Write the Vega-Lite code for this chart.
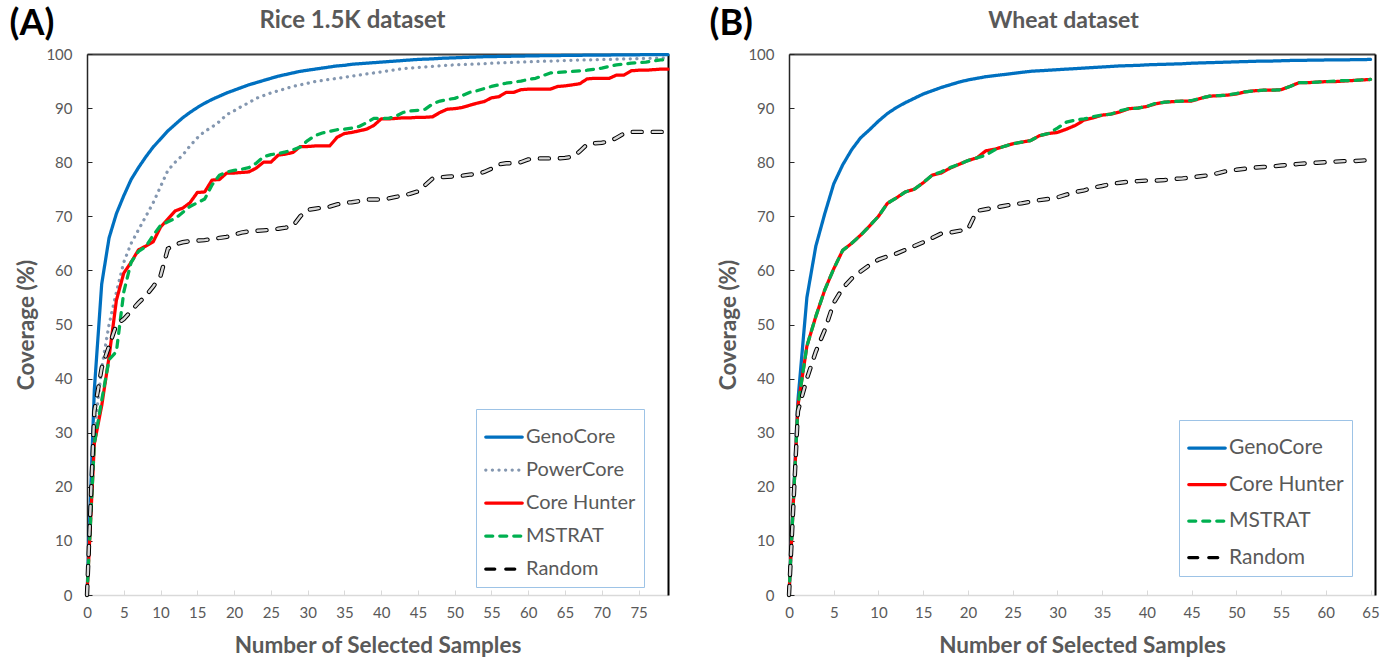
{
  "$schema": "https://vega.github.io/schema/vega-lite/v6.json",
  "background": "white",
  "padding": {"left": 9, "top": 5, "right": 5, "bottom": 5},
  "config": {
    "font": "Lato",
    "view": {"stroke": null},
    "axis": {"grid": false, "labelFont": "Lato", "labelFontSize": 15, "labelColor": "#595959", "titleFont": "Lato", "titleFontSize": 22.5, "titleFontWeight": "bold", "titleColor": "#595959"},
    "legend": {"orient": "none", "fillColor": "white", "strokeColor": "#9DC3E6", "padding": 8, "labelFont": "Lato", "labelColor": "#595959", "symbolType": "stroke", "symbolSize": 1330, "symbolStrokeWidth": 3.25, "labelOffset": 2, "labelLimit": 300}
  },
  "datasets": {
    "rice": [
      {"x":0,"GenoCore":0,"PowerCore":0,"Core Hunter":0,"MSTRAT":0,"Random":0},
      {"x":1,"GenoCore":38,"PowerCore":30,"Core Hunter":28,"MSTRAT":28,"Random":34},
      {"x":2,"GenoCore":57.5,"PowerCore":42,"Core Hunter":35,"MSTRAT":36,"Random":42},
      {"x":3,"GenoCore":66,"PowerCore":50,"Core Hunter":44,"MSTRAT":43.5,"Random":46},
      {"x":4,"GenoCore":70.5,"PowerCore":56,"Core Hunter":54.5,"MSTRAT":45,"Random":50},
      {"x":5,"GenoCore":73.8,"PowerCore":61.5,"Core Hunter":59.5,"MSTRAT":56,"Random":51},
      {"x":6,"GenoCore":76.8,"PowerCore":65,"Core Hunter":61.5,"MSTRAT":61.5,"Random":52.5},
      {"x":7,"GenoCore":79,"PowerCore":67.5,"Core Hunter":63.8,"MSTRAT":63.5,"Random":54},
      {"x":8,"GenoCore":81,"PowerCore":70,"Core Hunter":64.5,"MSTRAT":64.4,"Random":55.3},
      {"x":9,"GenoCore":82.8,"PowerCore":72.5,"Core Hunter":65.3,"MSTRAT":66.5,"Random":57},
      {"x":10,"GenoCore":84.3,"PowerCore":75.5,"Core Hunter":68,"MSTRAT":68.3,"Random":59},
      {"x":11,"GenoCore":85.8,"PowerCore":78.5,"Core Hunter":69.5,"MSTRAT":69,"Random":64},
      {"x":12,"GenoCore":87,"PowerCore":80,"Core Hunter":71,"MSTRAT":69.6,"Random":64.8},
      {"x":13,"GenoCore":88.2,"PowerCore":81.3,"Core Hunter":71.5,"MSTRAT":70.7,"Random":65.2},
      {"x":14,"GenoCore":89.2,"PowerCore":83,"Core Hunter":72.5,"MSTRAT":71.8,"Random":65.4},
      {"x":15,"GenoCore":90.1,"PowerCore":84.5,"Core Hunter":74.4,"MSTRAT":72.5,"Random":65.5},
      {"x":16,"GenoCore":90.9,"PowerCore":85.7,"Core Hunter":74.5,"MSTRAT":73.2,"Random":65.6},
      {"x":17,"GenoCore":91.6,"PowerCore":86.5,"Core Hunter":76.7,"MSTRAT":75.8,"Random":65.8},
      {"x":18,"GenoCore":92.2,"PowerCore":87.5,"Core Hunter":76.8,"MSTRAT":77.6,"Random":66},
      {"x":19,"GenoCore":92.8,"PowerCore":88.8,"Core Hunter":78,"MSTRAT":78.2,"Random":66.2},
      {"x":20,"GenoCore":93.3,"PowerCore":89.5,"Core Hunter":78,"MSTRAT":78.5,"Random":66.6},
      {"x":21,"GenoCore":93.8,"PowerCore":90.3,"Core Hunter":78.1,"MSTRAT":78.7,"Random":67},
      {"x":22,"GenoCore":94.3,"PowerCore":91,"Core Hunter":78.2,"MSTRAT":79,"Random":67.2},
      {"x":23,"GenoCore":94.7,"PowerCore":91.8,"Core Hunter":78.9,"MSTRAT":79.8,"Random":67.3},
      {"x":24,"GenoCore":95.1,"PowerCore":92.3,"Core Hunter":80,"MSTRAT":81,"Random":67.4},
      {"x":25,"GenoCore":95.5,"PowerCore":92.8,"Core Hunter":80,"MSTRAT":81.4,"Random":67.5},
      {"x":26,"GenoCore":95.9,"PowerCore":93.2,"Core Hunter":81.3,"MSTRAT":81.6,"Random":67.7},
      {"x":27,"GenoCore":96.2,"PowerCore":93.6,"Core Hunter":81.5,"MSTRAT":81.9,"Random":67.9},
      {"x":28,"GenoCore":96.5,"PowerCore":94,"Core Hunter":81.8,"MSTRAT":82.3,"Random":68.2},
      {"x":29,"GenoCore":96.8,"PowerCore":94.3,"Core Hunter":82.9,"MSTRAT":82.8,"Random":70},
      {"x":30,"GenoCore":97,"PowerCore":94.6,"Core Hunter":82.9,"MSTRAT":84,"Random":71.2},
      {"x":31,"GenoCore":97.2,"PowerCore":94.9,"Core Hunter":83,"MSTRAT":84.9,"Random":71.4},
      {"x":32,"GenoCore":97.4,"PowerCore":95.1,"Core Hunter":83,"MSTRAT":85.4,"Random":71.6},
      {"x":33,"GenoCore":97.6,"PowerCore":95.3,"Core Hunter":83,"MSTRAT":85.7,"Random":71.8},
      {"x":34,"GenoCore":97.8,"PowerCore":95.5,"Core Hunter":84.6,"MSTRAT":86,"Random":72.2},
      {"x":35,"GenoCore":97.9,"PowerCore":95.7,"Core Hunter":85.3,"MSTRAT":86.1,"Random":72.5},
      {"x":36,"GenoCore":98.1,"PowerCore":95.9,"Core Hunter":85.5,"MSTRAT":86.3,"Random":72.6},
      {"x":37,"GenoCore":98.2,"PowerCore":96.1,"Core Hunter":85.8,"MSTRAT":86.6,"Random":72.8},
      {"x":38,"GenoCore":98.3,"PowerCore":96.3,"Core Hunter":86.1,"MSTRAT":87.3,"Random":73.1},
      {"x":39,"GenoCore":98.4,"PowerCore":96.5,"Core Hunter":86.8,"MSTRAT":88.1,"Random":73.1},
      {"x":40,"GenoCore":98.5,"PowerCore":96.7,"Core Hunter":88,"MSTRAT":88.1,"Random":73.1},
      {"x":41,"GenoCore":98.6,"PowerCore":96.9,"Core Hunter":88,"MSTRAT":88.1,"Random":73.3},
      {"x":42,"GenoCore":98.7,"PowerCore":97.1,"Core Hunter":88.1,"MSTRAT":88.5,"Random":73.6},
      {"x":43,"GenoCore":98.8,"PowerCore":97.3,"Core Hunter":88.2,"MSTRAT":89.2,"Random":73.8},
      {"x":44,"GenoCore":98.9,"PowerCore":97.4,"Core Hunter":88.2,"MSTRAT":89.5,"Random":74.2},
      {"x":45,"GenoCore":99,"PowerCore":97.5,"Core Hunter":88.3,"MSTRAT":89.6,"Random":74.6},
      {"x":46,"GenoCore":99.05,"PowerCore":97.6,"Core Hunter":88.3,"MSTRAT":89.8,"Random":75.8},
      {"x":47,"GenoCore":99.1,"PowerCore":97.7,"Core Hunter":88.4,"MSTRAT":90.8,"Random":77},
      {"x":48,"GenoCore":99.2,"PowerCore":97.8,"Core Hunter":89.2,"MSTRAT":91.3,"Random":77.2},
      {"x":49,"GenoCore":99.25,"PowerCore":97.9,"Core Hunter":89.8,"MSTRAT":91.6,"Random":77.3},
      {"x":50,"GenoCore":99.3,"PowerCore":98,"Core Hunter":89.9,"MSTRAT":91.8,"Random":77.4},
      {"x":51,"GenoCore":99.35,"PowerCore":98.05,"Core Hunter":90.1,"MSTRAT":92.3,"Random":77.5},
      {"x":52,"GenoCore":99.4,"PowerCore":98.1,"Core Hunter":90.5,"MSTRAT":92.9,"Random":77.7},
      {"x":53,"GenoCore":99.45,"PowerCore":98.15,"Core Hunter":90.9,"MSTRAT":93.2,"Random":77.8},
      {"x":54,"GenoCore":99.5,"PowerCore":98.2,"Core Hunter":91.2,"MSTRAT":93.6,"Random":78.2},
      {"x":55,"GenoCore":99.5,"PowerCore":98.3,"Core Hunter":91.9,"MSTRAT":94,"Random":78.8},
      {"x":56,"GenoCore":99.55,"PowerCore":98.35,"Core Hunter":92.1,"MSTRAT":94.3,"Random":79.6},
      {"x":57,"GenoCore":99.55,"PowerCore":98.4,"Core Hunter":92.9,"MSTRAT":94.6,"Random":79.8},
      {"x":58,"GenoCore":99.6,"PowerCore":98.45,"Core Hunter":92.9,"MSTRAT":94.8,"Random":79.8},
      {"x":59,"GenoCore":99.6,"PowerCore":98.5,"Core Hunter":93.4,"MSTRAT":95,"Random":80},
      {"x":60,"GenoCore":99.65,"PowerCore":98.55,"Core Hunter":93.5,"MSTRAT":95.3,"Random":80.5},
      {"x":61,"GenoCore":99.65,"PowerCore":98.6,"Core Hunter":93.5,"MSTRAT":95.5,"Random":80.7},
      {"x":62,"GenoCore":99.7,"PowerCore":98.65,"Core Hunter":93.5,"MSTRAT":96,"Random":80.7},
      {"x":63,"GenoCore":99.7,"PowerCore":98.7,"Core Hunter":93.5,"MSTRAT":96.5,"Random":80.7},
      {"x":64,"GenoCore":99.7,"PowerCore":98.75,"Core Hunter":94,"MSTRAT":96.6,"Random":80.7},
      {"x":65,"GenoCore":99.75,"PowerCore":98.8,"Core Hunter":94.1,"MSTRAT":96.7,"Random":80.8},
      {"x":66,"GenoCore":99.75,"PowerCore":98.85,"Core Hunter":94.3,"MSTRAT":96.8,"Random":81},
      {"x":67,"GenoCore":99.75,"PowerCore":98.9,"Core Hunter":94.5,"MSTRAT":96.9,"Random":82},
      {"x":68,"GenoCore":99.8,"PowerCore":98.9,"Core Hunter":95.4,"MSTRAT":97,"Random":83.3},
      {"x":69,"GenoCore":99.8,"PowerCore":98.95,"Core Hunter":95.5,"MSTRAT":97.2,"Random":83.5},
      {"x":70,"GenoCore":99.8,"PowerCore":99,"Core Hunter":95.5,"MSTRAT":97.4,"Random":83.6},
      {"x":71,"GenoCore":99.8,"PowerCore":99,"Core Hunter":95.5,"MSTRAT":97.7,"Random":83.8},
      {"x":72,"GenoCore":99.85,"PowerCore":99.05,"Core Hunter":96.1,"MSTRAT":98,"Random":84.5},
      {"x":73,"GenoCore":99.85,"PowerCore":99.1,"Core Hunter":96.1,"MSTRAT":98.1,"Random":85.3},
      {"x":74,"GenoCore":99.85,"PowerCore":99.1,"Core Hunter":96.9,"MSTRAT":98.3,"Random":85.6},
      {"x":75,"GenoCore":99.85,"PowerCore":99.15,"Core Hunter":97,"MSTRAT":98.4,"Random":85.6},
      {"x":76,"GenoCore":99.9,"PowerCore":99.2,"Core Hunter":97,"MSTRAT":98.5,"Random":85.6},
      {"x":77,"GenoCore":99.9,"PowerCore":99.2,"Core Hunter":97.1,"MSTRAT":98.7,"Random":85.6},
      {"x":78,"GenoCore":99.9,"PowerCore":99.25,"Core Hunter":97.2,"MSTRAT":98.9,"Random":85.6},
      {"x":79,"GenoCore":99.9,"PowerCore":99.3,"Core Hunter":97.2,"MSTRAT":99,"Random":85.6}
    ],
    "wheat": [
      {"x":0,"GenoCore":0,"Core Hunter":0,"MSTRAT":0,"Random":0},
      {"x":1,"GenoCore":36,"Core Hunter":35,"MSTRAT":35,"Random":34},
      {"x":2,"GenoCore":55,"Core Hunter":46,"MSTRAT":46,"Random":40},
      {"x":3,"GenoCore":64.5,"Core Hunter":51.5,"MSTRAT":51.5,"Random":45},
      {"x":4,"GenoCore":70.5,"Core Hunter":56.4,"MSTRAT":56.4,"Random":49},
      {"x":5,"GenoCore":76,"Core Hunter":60.3,"MSTRAT":60.3,"Random":54},
      {"x":6,"GenoCore":79.5,"Core Hunter":63.7,"MSTRAT":63.7,"Random":56.7},
      {"x":7,"GenoCore":82.3,"Core Hunter":65,"MSTRAT":65,"Random":58.5},
      {"x":8,"GenoCore":84.5,"Core Hunter":66.5,"MSTRAT":66.5,"Random":59.8},
      {"x":9,"GenoCore":86,"Core Hunter":68.2,"MSTRAT":68.2,"Random":61},
      {"x":10,"GenoCore":87.6,"Core Hunter":70,"MSTRAT":70,"Random":62},
      {"x":11,"GenoCore":89,"Core Hunter":72.4,"MSTRAT":72.4,"Random":62.6},
      {"x":12,"GenoCore":90.1,"Core Hunter":73.4,"MSTRAT":73.4,"Random":63.1},
      {"x":13,"GenoCore":91,"Core Hunter":74.5,"MSTRAT":74.5,"Random":63.8},
      {"x":14,"GenoCore":91.8,"Core Hunter":75,"MSTRAT":75,"Random":64.5},
      {"x":15,"GenoCore":92.6,"Core Hunter":76.2,"MSTRAT":76.2,"Random":65.2},
      {"x":16,"GenoCore":93.2,"Core Hunter":77.6,"MSTRAT":77.6,"Random":66},
      {"x":17,"GenoCore":93.8,"Core Hunter":78,"MSTRAT":78.2,"Random":66.8},
      {"x":18,"GenoCore":94.3,"Core Hunter":78.9,"MSTRAT":79,"Random":67},
      {"x":19,"GenoCore":94.8,"Core Hunter":79.6,"MSTRAT":79.6,"Random":67.3},
      {"x":20,"GenoCore":95.2,"Core Hunter":80.3,"MSTRAT":80.3,"Random":67.6},
      {"x":21,"GenoCore":95.5,"Core Hunter":80.8,"MSTRAT":80.8,"Random":71},
      {"x":22,"GenoCore":95.8,"Core Hunter":82.1,"MSTRAT":81.3,"Random":71.3},
      {"x":23,"GenoCore":96,"Core Hunter":82.4,"MSTRAT":82.3,"Random":71.6},
      {"x":24,"GenoCore":96.2,"Core Hunter":82.9,"MSTRAT":82.9,"Random":71.9},
      {"x":25,"GenoCore":96.4,"Core Hunter":83.4,"MSTRAT":83.4,"Random":72.2},
      {"x":26,"GenoCore":96.6,"Core Hunter":83.7,"MSTRAT":83.7,"Random":72.4},
      {"x":27,"GenoCore":96.8,"Core Hunter":84,"MSTRAT":84,"Random":72.7},
      {"x":28,"GenoCore":96.9,"Core Hunter":84.9,"MSTRAT":84.9,"Random":73},
      {"x":29,"GenoCore":97,"Core Hunter":85.3,"MSTRAT":85.3,"Random":73.2},
      {"x":30,"GenoCore":97.1,"Core Hunter":85.5,"MSTRAT":86.3,"Random":73.5},
      {"x":31,"GenoCore":97.2,"Core Hunter":86.1,"MSTRAT":87.4,"Random":74},
      {"x":32,"GenoCore":97.3,"Core Hunter":86.8,"MSTRAT":87.8,"Random":74.5},
      {"x":33,"GenoCore":97.4,"Core Hunter":87.8,"MSTRAT":88,"Random":74.8},
      {"x":34,"GenoCore":97.5,"Core Hunter":88.2,"MSTRAT":88.4,"Random":75.3},
      {"x":35,"GenoCore":97.6,"Core Hunter":88.7,"MSTRAT":88.7,"Random":75.6},
      {"x":36,"GenoCore":97.7,"Core Hunter":88.9,"MSTRAT":88.9,"Random":76},
      {"x":37,"GenoCore":97.8,"Core Hunter":89.3,"MSTRAT":89.5,"Random":76.2},
      {"x":38,"GenoCore":97.85,"Core Hunter":89.9,"MSTRAT":89.9,"Random":76.4},
      {"x":39,"GenoCore":97.9,"Core Hunter":90,"MSTRAT":90,"Random":76.5},
      {"x":40,"GenoCore":98,"Core Hunter":90.3,"MSTRAT":90.3,"Random":76.6},
      {"x":41,"GenoCore":98.05,"Core Hunter":90.8,"MSTRAT":90.9,"Random":76.6},
      {"x":42,"GenoCore":98.1,"Core Hunter":91.1,"MSTRAT":91.1,"Random":76.7},
      {"x":43,"GenoCore":98.15,"Core Hunter":91.2,"MSTRAT":91.2,"Random":76.9},
      {"x":44,"GenoCore":98.2,"Core Hunter":91.3,"MSTRAT":91.3,"Random":77},
      {"x":45,"GenoCore":98.3,"Core Hunter":91.3,"MSTRAT":91.4,"Random":77.2},
      {"x":46,"GenoCore":98.35,"Core Hunter":91.8,"MSTRAT":91.8,"Random":77.4},
      {"x":47,"GenoCore":98.4,"Core Hunter":92.2,"MSTRAT":92.2,"Random":77.6},
      {"x":48,"GenoCore":98.45,"Core Hunter":92.3,"MSTRAT":92.3,"Random":78},
      {"x":49,"GenoCore":98.5,"Core Hunter":92.4,"MSTRAT":92.4,"Random":78.4},
      {"x":50,"GenoCore":98.55,"Core Hunter":92.6,"MSTRAT":92.7,"Random":78.6},
      {"x":51,"GenoCore":98.6,"Core Hunter":93,"MSTRAT":93,"Random":78.8},
      {"x":52,"GenoCore":98.65,"Core Hunter":93.2,"MSTRAT":93.2,"Random":79},
      {"x":53,"GenoCore":98.7,"Core Hunter":93.3,"MSTRAT":93.3,"Random":79.1},
      {"x":54,"GenoCore":98.7,"Core Hunter":93.3,"MSTRAT":93.3,"Random":79.2},
      {"x":55,"GenoCore":98.75,"Core Hunter":93.4,"MSTRAT":93.4,"Random":79.4},
      {"x":56,"GenoCore":98.8,"Core Hunter":94,"MSTRAT":94,"Random":79.5},
      {"x":57,"GenoCore":98.8,"Core Hunter":94.7,"MSTRAT":94.7,"Random":79.7},
      {"x":58,"GenoCore":98.85,"Core Hunter":94.7,"MSTRAT":94.7,"Random":79.8},
      {"x":59,"GenoCore":98.85,"Core Hunter":94.8,"MSTRAT":94.8,"Random":79.9},
      {"x":60,"GenoCore":98.9,"Core Hunter":94.9,"MSTRAT":94.9,"Random":80},
      {"x":61,"GenoCore":98.9,"Core Hunter":94.9,"MSTRAT":95,"Random":80.1},
      {"x":62,"GenoCore":98.9,"Core Hunter":95,"MSTRAT":95.1,"Random":80.2},
      {"x":63,"GenoCore":98.95,"Core Hunter":95.1,"MSTRAT":95.1,"Random":80.2},
      {"x":64,"GenoCore":98.95,"Core Hunter":95.2,"MSTRAT":95.2,"Random":80.3},
      {"x":65,"GenoCore":99,"Core Hunter":95.3,"MSTRAT":95.3,"Random":80.4}
    ]
  },
  "bounds": "flush",
  "spacing": 121,
  "resolve": {"scale": {"color": "independent", "strokeDash": "independent"}, "legend": {"color": "independent", "strokeDash": "independent"}},
  "hconcat": [
    {
      "width": 581,
      "height": 541,
      "data": {"name": "rice"},
      "transform": [{"fold": ["GenoCore", "PowerCore", "Core Hunter", "MSTRAT", "Random"], "as": ["method", "coverage"]}],
      "resolve": {"axis": {"x": "independent", "y": "independent"}},
      "layer": [
        {
          "transform": [{"filter": "datum.method !== 'Random'"}],
          "mark": {"type": "line", "strokeWidth": 3.25, "strokeCap": "round", "strokeJoin": "round"},
          "encoding": {
            "x": {"field": "x", "type": "quantitative", "scale": {"domain": [0, 79], "nice": false, "zero": false},
              "axis": {"values": [0,5,10,15,20,25,30,35,40,45,50,55,60,65,70,75], "title": "Number of Selected Samples", "domainColor": "#D9D9D9", "domainWidth": 1.5, "tickColor": "#D9D9D9", "tickSize": -5, "labelPadding": 15, "titlePadding": 14, "labelFlush": false}},
            "y": {"field": "coverage", "type": "quantitative", "scale": {"domain": [0, 100], "nice": false},
              "axis": {"values": [0,10,20,30,40,50,60,70,80,90,100], "title": "Coverage (%)", "domainColor": "#262626", "domainWidth": 1.5, "tickColor": "#262626", "tickSize": -5, "labelPadding": 20, "titlePadding": 7}},
            "color": {"field": "method", "type": "nominal",
              "scale": {"domain": ["GenoCore", "PowerCore", "Core Hunter", "MSTRAT", "Random"], "range": ["#0070C0", "#8497B0", "#FF0000", "#00B050", "#000000"]},
              "legend": {"title": null, "legendX": 389, "legendY": 355, "labelFontSize": 20, "rowPadding": 3, "encode": {"symbols": {"update": {"strokeCap": {"value": "round"}}}}}},
            "strokeDash": {"field": "method", "type": "nominal",
              "scale": {"domain": ["GenoCore", "PowerCore", "Core Hunter", "MSTRAT", "Random"], "range": [[1, 0], [0.1, 6.5], [1, 0], [7, 7], [9, 11]]},
              "legend": {"title": null, "legendX": 389, "legendY": 355, "labelFontSize": 20, "rowPadding": 3, "encode": {"symbols": {"update": {"strokeCap": {"value": "round"}}}}}}
          }
        },
        {
          "transform": [{"filter": "datum.method === 'Random'"}],
          "mark": {"type": "line", "strokeWidth": 4.4, "color": "#000000", "strokeDash": [9, 11], "strokeCap": "round"},
          "encoding": {
            "x": {"field": "x", "type": "quantitative", "axis": null},
            "y": {"field": "coverage", "type": "quantitative", "axis": null}
          }
        },
        {
          "transform": [{"filter": "datum.method === 'Random'"}],
          "mark": {"type": "line", "strokeWidth": 2.4, "color": "#D9D9D9", "strokeDash": [9, 11], "strokeCap": "round"},
          "encoding": {
            "x": {"field": "x", "type": "quantitative",
              "axis": {"orient": "top", "title": "(A)", "labels": false, "ticks": false, "domainColor": "#404040", "domainWidth": 2, "titleX": -78, "titleY": -20, "titleAlign": "left", "titleAnchor": "start", "titleBaseline": "alphabetic", "titleFontSize": 36, "titleColor": "#000000", "titleFontWeight": "bold"}},
            "y": {"field": "coverage", "type": "quantitative",
              "axis": {"orient": "right", "title": "Rice 1.5K dataset", "labels": false, "ticks": false, "domainColor": "#000000", "domainWidth": 2, "titleAngle": 0, "titleX": -316, "titleY": -34, "titleAlign": "center", "titleBaseline": "middle", "titleFontSize": 24, "titleColor": "#595959", "titleFontWeight": "bold"}}
          }
        }
      ]
    },
    {
      "width": 586,
      "height": 541,
      "data": {"name": "wheat"},
      "transform": [{"fold": ["GenoCore", "Core Hunter", "MSTRAT", "Random"], "as": ["method", "coverage"]}],
      "resolve": {"axis": {"x": "independent", "y": "independent"}},
      "layer": [
        {
          "transform": [{"filter": "datum.method !== 'Random'"}],
          "mark": {"type": "line", "strokeWidth": 3.25, "strokeCap": "round", "strokeJoin": "round"},
          "encoding": {
            "x": {"field": "x", "type": "quantitative", "scale": {"domain": [0, 65.5], "nice": false, "zero": false},
              "axis": {"values": [0,5,10,15,20,25,30,35,40,45,50,55,60,65], "title": "Number of Selected Samples", "domainColor": "#D9D9D9", "domainWidth": 1.5, "tickColor": "#D9D9D9", "tickSize": -5, "labelPadding": 15, "titlePadding": 14, "labelFlush": false}},
            "y": {"field": "coverage", "type": "quantitative", "scale": {"domain": [0, 100], "nice": false},
              "axis": {"values": [0,10,20,30,40,50,60,70,80,90,100], "title": "Coverage (%)", "domainColor": "#262626", "domainWidth": 1.5, "tickColor": "#262626", "tickSize": -5, "labelPadding": 20, "titlePadding": 7}},
            "color": {"field": "method", "type": "nominal",
              "scale": {"domain": ["GenoCore", "Core Hunter", "MSTRAT", "Random"], "range": ["#0070C0", "#FF0000", "#00B050", "#000000"]},
              "legend": {"title": null, "legendX": 390, "legendY": 366, "labelFontSize": 21, "rowPadding": 6.5, "encode": {"symbols": {"update": {"strokeCap": {"value": "round"}}}}}},
            "strokeDash": {"field": "method", "type": "nominal",
              "scale": {"domain": ["GenoCore", "Core Hunter", "MSTRAT", "Random"], "range": [[1, 0], [1, 0], [7, 7], [9, 11]]},
              "legend": {"title": null, "legendX": 390, "legendY": 366, "labelFontSize": 21, "rowPadding": 6.5, "encode": {"symbols": {"update": {"strokeCap": {"value": "round"}}}}}}
          }
        },
        {
          "transform": [{"filter": "datum.method === 'Random'"}],
          "mark": {"type": "line", "strokeWidth": 4.4, "color": "#000000", "strokeDash": [9, 11], "strokeCap": "round"},
          "encoding": {
            "x": {"field": "x", "type": "quantitative", "axis": null},
            "y": {"field": "coverage", "type": "quantitative", "axis": null}
          }
        },
        {
          "transform": [{"filter": "datum.method === 'Random'"}],
          "mark": {"type": "line", "strokeWidth": 2.4, "color": "#D9D9D9", "strokeDash": [9, 11], "strokeCap": "round"},
          "encoding": {
            "x": {"field": "x", "type": "quantitative",
              "axis": {"orient": "top", "title": "(B)", "labels": false, "ticks": false, "domainColor": "#404040", "domainWidth": 2, "titleX": -80, "titleY": -20, "titleAlign": "left", "titleAnchor": "start", "titleBaseline": "alphabetic", "titleFontSize": 36, "titleColor": "#000000", "titleFontWeight": "bold"}},
            "y": {"field": "coverage", "type": "quantitative",
              "axis": {"orient": "right", "title": "Wheat dataset", "labels": false, "ticks": false, "domainColor": "#000000", "domainWidth": 2, "titleAngle": 0, "titleX": -312, "titleY": -34, "titleAlign": "center", "titleBaseline": "middle", "titleFontSize": 23, "titleColor": "#595959", "titleFontWeight": "bold"}}
          }
        }
      ]
    }
  ]
}
